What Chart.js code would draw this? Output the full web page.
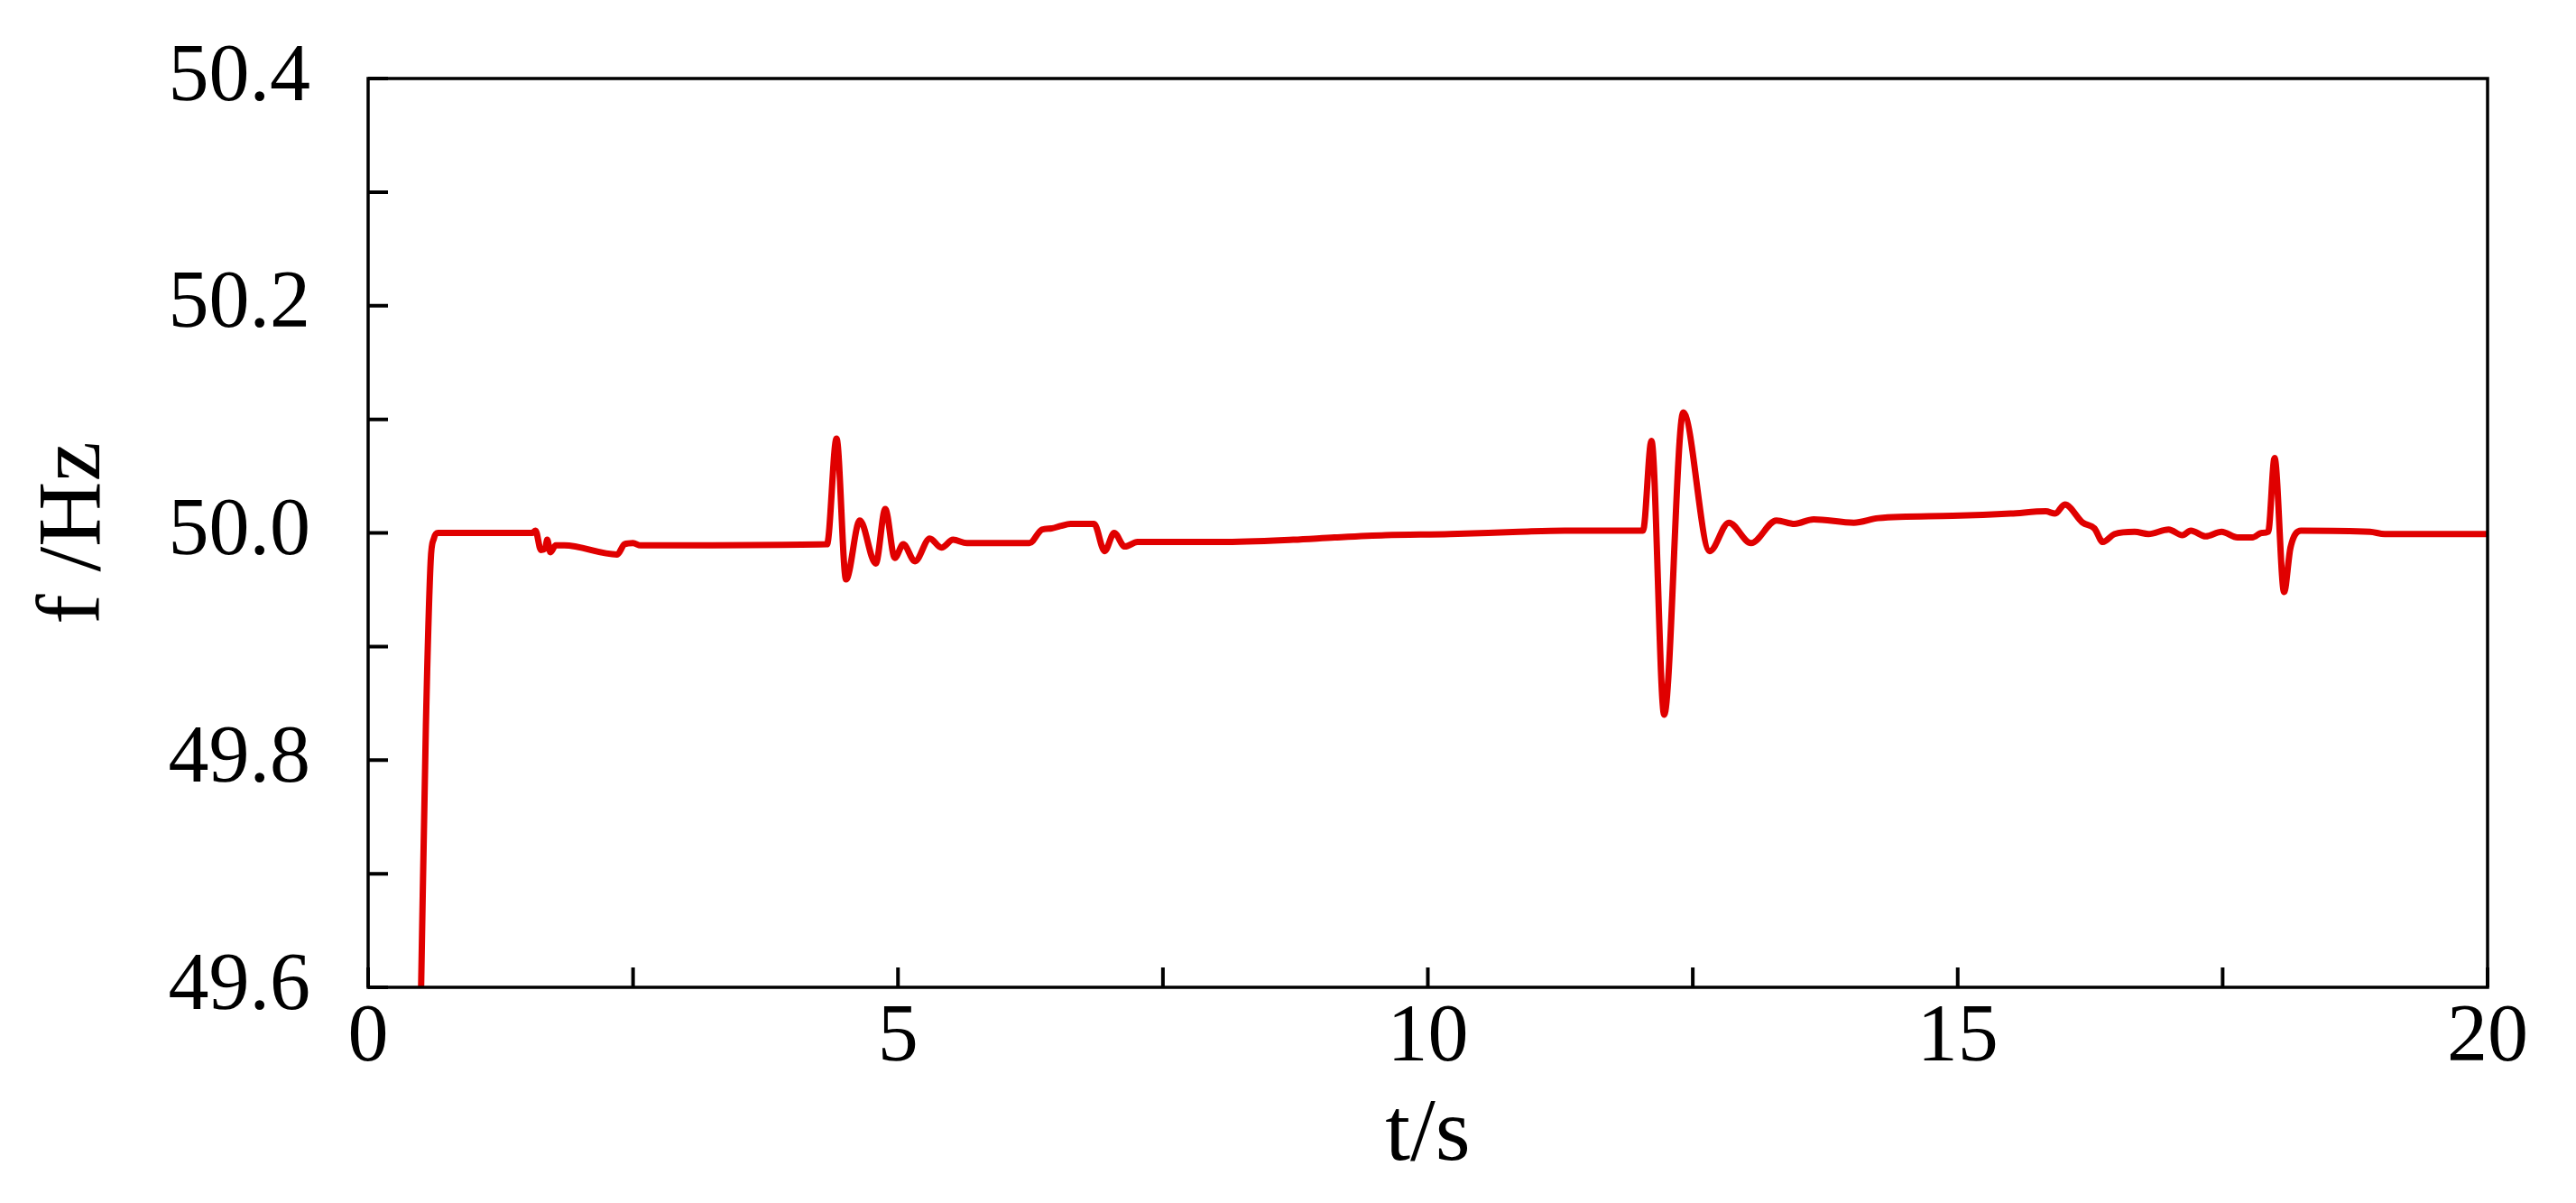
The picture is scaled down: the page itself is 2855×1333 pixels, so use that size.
<!DOCTYPE html>
<html>
<head>
<meta charset="utf-8">
<title>f /Hz</title>
<script src="https://cdn.jsdelivr.net/npm/chart.js@4.4.1/dist/chart.umd.min.js"></script>
<style>
    html, body { margin: 0; padding: 0; background: #fff; }
    canvas { display: block; }
</style>
</head>
<body>
<canvas id="freqChart" width="2855" height="1333"></canvas>
<script>
// time axis (s) and frequency (Hz)
var timeS = [
    0.50, 0.545, 0.59, 0.62, 0.66, 1.55, 1.58, 1.63, 1.67, 1.69,
    1.72, 1.77, 1.85, 2.35, 2.42, 2.50, 2.57, 4.33, 4.42, 4.51,
    4.64, 4.79, 4.88, 4.97, 5.05, 5.16, 5.30, 5.41, 5.52, 5.65,
    6.24, 6.36, 6.45, 6.53, 6.63, 6.85, 6.95, 7.04, 7.14, 7.26,
    8.04, 8.73, 9.12, 9.60, 10.21, 10.86, 11.29, 12.03, 12.11, 12.23,
    12.41, 12.66, 12.84, 13.05, 13.29, 13.46, 13.64, 14.02, 14.25, 14.95,
    15.50, 15.83, 15.92, 16.01, 16.18, 16.29, 16.37, 16.48, 16.67, 16.80,
    16.99, 17.12, 17.20, 17.34, 17.49, 17.64, 17.78, 17.87, 17.93, 17.99,
    18.08, 18.14, 18.24, 18.89, 19.03, 20.00
];
var freqHz = [
    49.600, 49.830, 49.975, 49.995, 50.000, 50.000, 50.002, 49.985, 49.986, 49.994,
    49.983, 49.989, 49.989, 49.981, 49.990, 49.991, 49.989, 49.990, 50.083, 49.959,
    50.011, 49.973, 50.021, 49.978, 49.990, 49.975, 49.995, 49.987, 49.994, 49.991,
    49.991, 50.003, 50.004, 50.006, 50.008, 50.008, 49.984, 50.000, 49.988, 49.992,
    49.992, 49.994, 49.996, 49.998, 49.999, 50.001, 50.002, 50.002, 50.081, 49.840,
    50.106, 49.984, 50.009, 49.991, 50.011, 50.008, 50.012, 50.009, 50.013, 50.015,
    50.017, 50.019, 50.017, 50.025, 50.009, 50.004, 49.992, 49.999, 50.001, 49.999,
    50.003, 49.998, 50.002, 49.997, 50.001, 49.996, 49.996, 50.000, 50.001, 50.066,
    49.948, 49.987, 50.002, 50.001, 49.999, 49.999
];

var xRange = [0, 20];
var yRange = [49.6, 50.4];
var xStep = 2.5;   // minor tick every 2.5 s, label every 5 s
var yStep = 0.1;   // minor tick every 0.1 Hz, label every 0.2 Hz

var points = timeS.map(function(t, i) { return { x: t, y: freqHz[i] }; });

var serif = "'Liberation Serif', 'Times New Roman', serif";

// frame round the plot plus ticks pointing into it (bottom and left only)
var frameAndTicks = {
    id: 'frameAndTicks',
    afterDraw: function(chart) {
        var ctx = chart.ctx;
        var a = chart.chartArea;
        var tickLen = 22;
        ctx.save();
        ctx.strokeStyle = '#000';
        ctx.lineWidth = 3.5;
        ctx.strokeRect(a.left, a.top, a.right - a.left, a.bottom - a.top);

        ctx.lineWidth = 4;
        ctx.beginPath();
        chart.scales.x.ticks.forEach(function(t) {
            var px = chart.scales.x.getPixelForValue(t.value);
            ctx.moveTo(px, a.bottom);
            ctx.lineTo(px, a.bottom - tickLen);
        });
        chart.scales.y.ticks.forEach(function(t) {
            var py = chart.scales.y.getPixelForValue(t.value);
            ctx.moveTo(a.left, py);
            ctx.lineTo(a.left + tickLen, py);
        });
        ctx.stroke();
        ctx.restore();
    }
};

var ctx = document.getElementById('freqChart').getContext('2d');
var freqChart = new Chart(ctx, {
    type: 'line',
    data: {
        datasets: [{
            label: 'f',
            data: points,
            borderColor: '#e00000',
            borderWidth: 7,
            pointRadius: 0,
            fill: false,
            cubicInterpolationMode: 'monotone'
        }]
    },
    options: {
        responsive: false,
        animation: false,
        devicePixelRatio: 1,
        layout: {
            padding: { top: 87, right: 98, left: 0, bottom: 0 }
        },
        plugins: {
            legend: { display: false },
            tooltip: { enabled: false }
        },
        scales: {
            x: {
                type: 'linear',
                min: xRange[0],
                max: xRange[1],
                afterFit: function(scale) {
                    scale.height = 239;
                    scale.paddingLeft = 0;
                    scale.paddingRight = 0;
                },
                grid: { display: false },
                border: { display: false },
                ticks: {
                    stepSize: xStep,
                    autoSkip: false,
                    maxRotation: 0,
                    padding: -5,
                    color: '#000',
                    font: { family: serif, size: 90 },
                    callback: function(v) { return v % 5 === 0 ? String(v) : ''; }
                },
                title: {
                    display: true,
                    text: 't/s',
                    color: '#000',
                    font: { family: serif, size: 100 },
                    padding: { top: 0, bottom: 14 }
                }
            },
            y: {
                type: 'linear',
                min: yRange[0],
                max: yRange[1],
                afterFit: function(scale) {
                    scale.width = 408;
                    scale.paddingTop = 0;
                    scale.paddingBottom = 0;
                },
                grid: { display: false },
                border: { display: false },
                ticks: {
                    stepSize: yStep,
                    autoSkip: false,
                    padding: 56,
                    color: '#000',
                    font: { family: serif, size: 90 },
                    callback: function(v) {
                        return Math.round(v * 10) % 2 === 0 ? v.toFixed(1) : '';
                    }
                },
                title: {
                    display: true,
                    text: 'f /Hz',
                    color: '#000',
                    font: { family: serif, size: 100 },
                    padding: { top: 24, bottom: 0 }
                }
            }
        }
    },
    plugins: [frameAndTicks]
});
</script>
</body>
</html>
